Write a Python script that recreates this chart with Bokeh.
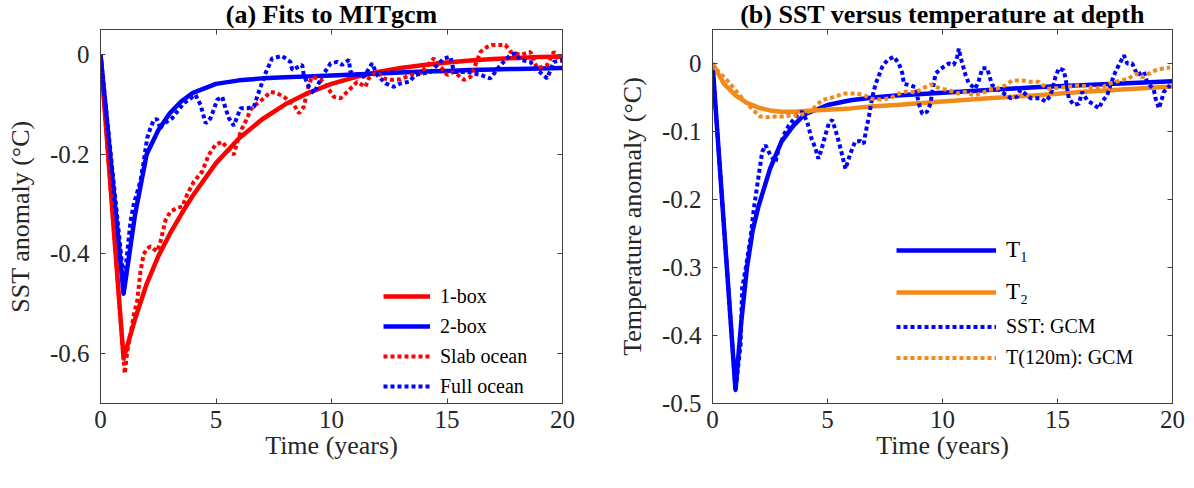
from bokeh.plotting import figure
from bokeh.models import (Range1d, FixedTicker, LinearAxis, Legend, LegendItem, CustomLabelingPolicy)
from bokeh.layouts import row
from bokeh.embed import file_html
from bokeh.resources import INLINE

FONT = "Liberation Serif"
AX = "#404040"
RED = "#ff0000"
BLUE = "#0000ff"
ORANGE = "#f28a1a"

# ---------------- Panel (a) data ----------------
fit_t = [0, 1, 1.25, 1.5, 1.75, 2, 2.5, 3, 3.5, 4, 5, 6, 7, 8, 9, 10, 11, 12, 13, 14, 15, 16, 17, 18, 19, 20]
one_box = [0, -0.61, -0.57, -0.53, -0.495, -0.46, -0.405, -0.36, -0.32, -0.283, -0.218, -0.168, -0.13, -0.1,
           -0.077, -0.059, -0.046, -0.035, -0.027, -0.021, -0.016, -0.012, -0.009, -0.007, -0.005, -0.004]
two_box = [0, -0.48, -0.40, -0.32, -0.26, -0.20, -0.152, -0.118, -0.094, -0.077, -0.059, -0.052, -0.048, -0.046,
           -0.044, -0.042, -0.040, -0.038, -0.036, -0.034, -0.033, -0.031, -0.030, -0.029, -0.028, -0.027]

slab_t = [0, 1.05, 1.16, 1.3, 1.45, 1.59, 1.73, 1.87, 2.0, 2.16, 2.3, 2.45, 2.6, 2.81, 3.03, 3.32, 3.54, 3.75, 4.04,
          4.4, 4.69, 4.98, 5.27, 5.48, 5.77, 5.92, 6.13, 6.35, 6.49, 6.71, 7.07, 7.36, 7.65, 7.94, 8.37, 8.59, 8.8,
          9.02, 9.16, 9.52, 9.81, 10.1, 10.39, 10.68, 11.11, 11.47, 11.61, 11.97, 12.26, 12.55, 12.99, 13.42, 13.85,
          14.43, 15.01, 15.3, 15.73, 16.02, 16.45, 16.74, 16.96, 17.32, 17.53, 17.75, 18.18, 18.61, 18.9, 19.34,
          19.62, 20.0]
slab = [0, -0.64, -0.595, -0.561, -0.52, -0.494, -0.435, -0.401, -0.39, -0.385, -0.39, -0.395, -0.375, -0.333,
        -0.315, -0.308, -0.305, -0.281, -0.255, -0.235, -0.201, -0.181, -0.175, -0.188, -0.201, -0.175, -0.148,
        -0.128, -0.111, -0.101, -0.088, -0.075, -0.078, -0.085, -0.101, -0.118, -0.105, -0.06, -0.045, -0.05,
        -0.065, -0.085, -0.088, -0.075, -0.055, -0.065, -0.048, -0.035, -0.048, -0.051, -0.05, -0.041, -0.038,
        -0.008, -0.041, -0.035, -0.051, -0.045, 0.005, 0.015, 0.019, 0.019, 0.019, 0.005, -0.001, 0.005, -0.028,
        -0.021, 0.005, -0.015]

full_t = [0, 1.02, 1.15, 1.3, 1.44, 1.73, 1.87, 2.02, 2.16, 2.31, 2.45, 2.6, 2.67, 3.1, 3.6, 4.11, 4.33, 4.55, 4.76,
          4.9, 5.05, 5.27, 5.41, 5.56, 5.77, 5.92, 6.06, 6.35, 6.64, 6.78, 7.14, 7.43, 7.86, 8.22, 8.3, 8.73, 8.8,
          9.02, 9.24, 9.6, 9.96, 10.25, 10.46, 10.75, 10.82, 11.4, 11.76, 11.97, 12.34, 12.7, 12.99, 13.35, 13.64,
          14.29, 14.86, 15.15, 15.3, 15.87, 16.45, 16.88, 17.32, 17.75, 17.97, 18.18, 18.61, 18.9, 19.34, 19.62, 20.0]
full = [0, -0.46, -0.40, -0.335, -0.30, -0.254, -0.215, -0.168, -0.148, -0.131, -0.13, -0.15, -0.141, -0.128,
        -0.098, -0.081, -0.101, -0.138, -0.128, -0.111, -0.091, -0.085, -0.108, -0.128, -0.143, -0.125, -0.108,
        -0.108, -0.105, -0.085, -0.038, -0.008, -0.003, -0.015, -0.031, -0.021, -0.041, -0.065, -0.078, -0.043,
        -0.018, -0.015, -0.021, -0.011, -0.035, -0.045, -0.018, -0.041, -0.058, -0.065, -0.058, -0.055, -0.041,
        -0.035, -0.008, -0.005, -0.035, -0.035, -0.041, -0.048, -0.021, -0.001, 0.002, -0.011, -0.015, -0.031,
        -0.048, -0.015, -0.011]

# ---------------- Panel (b) data ----------------
t1_t = [0, 1, 1.25, 1.5, 1.75, 2, 2.5, 3, 3.5, 4, 5, 6, 7, 8, 10, 12, 14, 16, 18, 20]
t1 = [0, -0.48, -0.38, -0.30, -0.245, -0.21, -0.155, -0.115, -0.092, -0.075, -0.061, -0.054, -0.050, -0.047,
      -0.043, -0.039, -0.035, -0.032, -0.029, -0.026]
t2_t = [0, 0.5, 1, 1.5, 2, 2.5, 3, 3.5, 4, 5, 6, 7, 8, 10, 12, 14, 16, 18, 20]
t2 = [0, -0.03, -0.047, -0.058, -0.065, -0.069, -0.071, -0.071, -0.070, -0.068, -0.066, -0.063, -0.061, -0.056,
      -0.051, -0.047, -0.042, -0.038, -0.034]

sst_t = [0, 1.0, 1.22, 1.29, 1.45, 1.65, 1.8, 2.01, 2.16, 2.3, 2.52, 2.74, 2.88, 3.1, 3.32, 3.68, 3.9, 4.12, 4.3,
         4.48, 4.6, 4.75, 4.91, 5.06, 5.2, 5.35, 5.49, 5.64, 5.78, 6.0, 6.2, 6.43, 6.58, 6.65, 6.8, 6.94, 7.09, 7.23,
         7.38, 7.6, 7.88, 8.1, 8.25, 8.32, 8.61, 8.83, 8.97, 9.12, 9.33, 9.48, 9.55, 9.7, 9.91, 10.27, 10.49, 10.64,
         10.71, 10.78, 11.0, 11.14, 11.43, 11.58, 11.73, 11.94, 12.16, 12.38, 12.67, 12.96, 13.25, 13.39, 13.83,
         14.26, 14.48, 14.7, 14.91, 15.06, 15.27, 15.35, 15.49, 15.71, 15.93, 16.07, 16.29, 16.51, 16.8, 16.94,
         17.16, 17.3, 17.52, 17.67, 17.89, 18.03, 18.25, 18.47, 18.75, 18.9, 19.19, 19.26, 19.41, 19.55, 19.62, 19.9]
sst = [0, -0.48, -0.414, -0.33, -0.30, -0.257, -0.213, -0.164, -0.13, -0.12, -0.135, -0.145, -0.125, -0.105,
       -0.091, -0.076, -0.071, -0.086, -0.11, -0.125, -0.14, -0.125, -0.105, -0.088, -0.083, -0.098, -0.115,
       -0.135, -0.155, -0.132, -0.115, -0.114, -0.118, -0.103, -0.078, -0.051, -0.03, -0.018, -0.005, 0.005, 0.01,
       0.0, -0.014, -0.03, -0.032, -0.035, -0.059, -0.074, -0.071, -0.059, -0.042, -0.015, -0.008, 0.0, -0.002,
       0.01, 0.022, 0.01, -0.017, -0.029, -0.037, -0.025, -0.007, -0.007, -0.032, -0.037, -0.044, -0.051, -0.049,
       -0.039, -0.051, -0.051, -0.056, -0.047, -0.02, -0.007, -0.01, -0.022, -0.051, -0.061, -0.059, -0.042,
       -0.054, -0.059, -0.066, -0.056, -0.047, -0.032, -0.012, -0.002, 0.012, 0.0, 0.0, -0.017, -0.012, -0.027,
       -0.039, -0.051, -0.066, -0.051, -0.042, -0.032]

deep_t = [0, 0.26, 0.7, 1.06, 1.42, 1.75, 2.07, 2.36, 2.73, 3.09, 3.45, 3.81, 4.17, 4.46, 4.75, 5.12, 5.48, 5.77,
          6.2, 6.57, 6.9, 7.3, 7.74, 8.25, 8.54, 8.83, 9.12, 9.48, 9.91, 10.27, 10.64, 11.0, 11.36, 11.7, 12.01,
          12.38, 12.74, 13.03, 13.47, 13.83, 14.19, 14.55, 15.0, 15.49, 15.93, 16.29, 16.65, 17.01, 17.3, 17.74,
          18.1, 18.39, 18.68, 18.97, 19.26, 19.62, 19.9]
deep = [0, -0.012, -0.027, -0.042, -0.056, -0.068, -0.078, -0.079, -0.078, -0.078, -0.076, -0.076, -0.071, -0.064,
        -0.054, -0.051, -0.047, -0.044, -0.044, -0.046, -0.052, -0.053, -0.051, -0.042, -0.041, -0.043, -0.037,
        -0.031, -0.037, -0.039, -0.044, -0.042, -0.047, -0.044, -0.039, -0.037, -0.032, -0.025, -0.025, -0.027,
        -0.027, -0.037, -0.036, -0.034, -0.032, -0.034, -0.037, -0.034, -0.029, -0.025, -0.022, -0.015, -0.02,
        -0.015, -0.01, -0.007, -0.006]

x_ticks = [0, 5, 10, 15, 20]
a_yticks = [-0.6, -0.4, -0.2, 0]
a_ylabels = ["-0.6", "-0.4", "-0.2", "0"]
b_yticks = [-0.5, -0.4, -0.3, -0.2, -0.1, 0]
b_ylabels = ["-0.5", "-0.4", "-0.3", "-0.2", "-0.1", "0"]

NO_LABELS = CustomLabelingPolicy(code="for (const i of indices) { indices.unset(i) } return indices")


def style_axis(ax, ticks, labels=None, hidden=False):
    ax.ticker = FixedTicker(ticks=ticks)
    ax.axis_line_color = AX
    ax.axis_line_width = 1
    ax.major_tick_line_color = AX
    ax.major_tick_in = 5
    ax.major_tick_out = 0
    ax.minor_tick_line_color = None
    ax.major_label_text_font = FONT
    ax.major_label_text_font_size = "25px"
    ax.major_label_text_color = "#262626"
    ax.axis_label_text_font = FONT
    ax.axis_label_text_font_size = "26px"
    ax.axis_label_text_font_style = "normal"
    ax.axis_label_text_color = "#262626"
    if labels is not None:
        ax.major_label_overrides = {t: l for t, l in zip(ticks, labels)}
    if hidden:
        ax.major_label_policy = NO_LABELS
        ax.major_label_text_font_size = "1px"
        ax.major_label_standoff = 0


def make_fig(yr, yticks, ylabels, ylabel, bl, br, fw, title):
    p = figure(frame_width=fw, frame_height=374, x_range=Range1d(0, 20), y_range=Range1d(*yr),
               output_backend="svg", toolbar_location=None, title=title,
               min_border_left=bl, min_border_right=br, min_border_top=28, min_border_bottom=60)
    p.title.align = "center"
    p.title.text_font = FONT
    p.title.text_font_size = "26px"
    p.title.text_font_style = "bold"
    p.title.text_color = "black"
    p.title.standoff = -6
    p.title.offset = 0
    p.xgrid.visible = False
    p.ygrid.visible = False
    p.outline_line_color = AX
    p.background_fill_color = "white"
    p.border_fill_color = "white"
    style_axis(p.xaxis[0], x_ticks, [str(v) for v in x_ticks])
    style_axis(p.yaxis[0], yticks, ylabels)
    p.xaxis[0].axis_label = "Time (years)"
    p.xaxis[0].major_label_standoff = 7
    p.xaxis[0].axis_label_standoff = 0
    p.yaxis[0].axis_label = ylabel
    p.yaxis[0].major_label_standoff = 11
    p.yaxis[0].axis_label_standoff = 12
    top = LinearAxis()
    style_axis(top, x_ticks, hidden=True)
    p.add_layout(top, "above")
    right = LinearAxis()
    style_axis(right, yticks, hidden=True)
    p.add_layout(right, "right")
    return p


# ---------------- Panel (a) ----------------
pa = make_fig((-0.7, 0.05), a_yticks, a_ylabels, "SST anomaly (°C)", 100, 46, 462, "(a) Fits to MITgcm")
r1 = pa.line(fit_t, one_box, line_color=RED, line_width=4.5, line_join="round")
r2 = pa.line(fit_t, two_box, line_color=BLUE, line_width=4.5, line_join="round")
r3 = pa.line(slab_t, slab, line_color=RED, line_width=4, line_dash="4 3")
r4 = pa.line(full_t, full, line_color=BLUE, line_width=4, line_dash="4 3")
leg_a = Legend(items=[LegendItem(label="1-box", renderers=[r1]), LegendItem(label="2-box", renderers=[r2]),
                      LegendItem(label="Slab ocean", renderers=[r3]), LegendItem(label="Full ocean", renderers=[r4])],
               location=(283, 2), glyph_width=47, glyph_height=30, label_height=30, spacing=0, padding=0,
               margin=0, label_standoff=10, label_text_font=FONT, label_text_font_size="20px",
               label_text_color="black", border_line_alpha=0, background_fill_alpha=0)
pa.add_layout(leg_a)

# ---------------- Panel (b) ----------------
pb = make_fig((-0.5, 0.05), b_yticks, b_ylabels, "Temperature anomaly (°C)", 104, 14, 460,
              "(b) SST versus temperature at depth")
q1 = pb.line(t1_t, t1, line_color=BLUE, line_width=4.5, line_join="round")
q2 = pb.line(t2_t, t2, line_color=ORANGE, line_width=4.5, line_join="round")
q3 = pb.line(sst_t, sst, line_color=BLUE, line_width=4, line_dash="4 3")
q4 = pb.line(deep_t, deep, line_color=ORANGE, line_width=4, line_dash="4 3")
leg_b1 = Legend(items=[LegendItem(label="T\u2081", renderers=[q1]), LegendItem(label="T\u2082", renderers=[q2])],
                location=(184, 90), glyph_width=100, glyph_height=42, label_height=42, spacing=0, padding=0,
                margin=0, label_standoff=10, label_text_font=FONT, label_text_font_size="23px",
                label_text_color="black", border_line_alpha=0, background_fill_alpha=0)
leg_b2 = Legend(items=[LegendItem(label="SST: GCM", renderers=[q3]),
                       LegendItem(label="T(120m): GCM", renderers=[q4])],
                location=(184, 30), glyph_width=100, glyph_height=31, label_height=31, spacing=0, padding=0,
                margin=0, label_standoff=10, label_text_font=FONT, label_text_font_size="20px",
                label_text_color="black", border_line_alpha=0, background_fill_alpha=0)
pb.add_layout(leg_b1)
pb.add_layout(leg_b2)

layout = row(pa, pb)
open("out.html", "w").write(file_html(layout, INLINE))
